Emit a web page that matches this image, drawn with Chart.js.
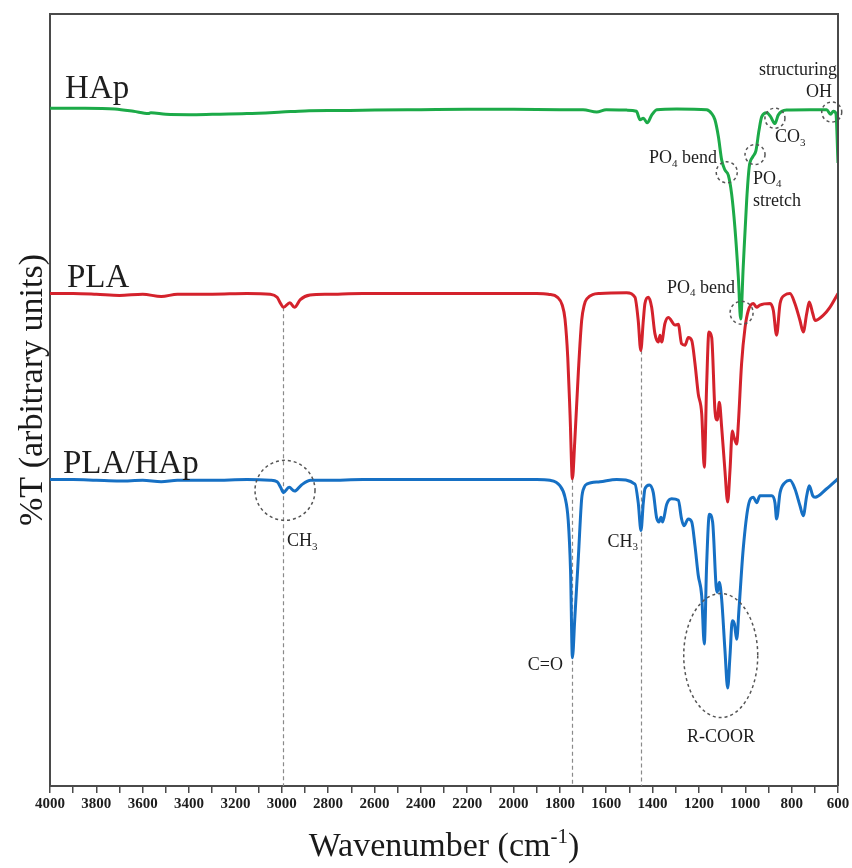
<!DOCTYPE html>
<html>
<head>
<meta charset="utf-8">
<title>FTIR spectra - HAp, PLA, PLA/HAp</title>
<script src="https://cdn.jsdelivr.net/npm/chart.js@4.4.0/dist/chart.umd.min.js"></script>
<style>
    body { margin: 0; background: #fff; }
    #wrap { width: 852px; height: 868px; position: relative; }
</style>
</head>
<body>
<div id="wrap"><canvas id="ftirChart"></canvas></div>
<script>
// Spectra: wavenumber (cm-1) and %T (arbitrary, traces are offset)
var hapWn = [4000, 3850, 3720, 3640, 3575, 3565, 3500, 3400, 3300, 3150,
    3000, 2900, 2750, 2600, 2400, 2200, 2000, 1800, 1700, 1641,
    1600, 1512, 1470, 1454, 1440, 1423, 1404, 1382, 1296, 1167,
    1145, 1131, 1116, 1102, 1088, 1073, 1059, 1045, 1030, 1020,
    1009, 994, 983, 968, 954, 941, 929, 908, 891, 872,
    858, 822, 721, 649, 632, 620, 609, 600];
var hapT = [87.8, 87.8, 87.7, 87.4, 87.1, 87.2, 87.0, 86.95, 87.0, 87.1,
    87.3, 87.45, 87.5, 87.55, 87.6, 87.65, 87.65, 87.6, 87.6, 87.3,
    87.6, 87.55, 87.4, 86.3, 86.5, 85.9, 86.9, 87.6, 87.7, 87.6,
    87.1, 86.3, 84.1, 81.1, 79.8, 79.1, 76.7, 72.4, 65.9, 60.5,
    67.2, 75.9, 80.2, 81.5, 82.3, 84.9, 86.7, 87.2, 86.7, 85.8,
    86.9, 87.55, 87.6, 87.6, 87.0, 87.4, 87.1, 80.7];

var plaWn = [4000, 3900, 3800, 3700, 3600, 3520, 3450, 3300, 3150, 3050,
    3020, 3005, 2993, 2965, 2945, 2920, 2878, 2800, 2650, 2450,
    2250, 2050, 1900, 1850, 1810, 1790, 1778, 1766, 1756, 1746,
    1736, 1720, 1706, 1695, 1684, 1627, 1512, 1476, 1462, 1451,
    1440, 1433, 1418, 1404, 1390, 1375, 1368, 1361, 1347, 1332,
    1303, 1289, 1275, 1260, 1246, 1231, 1217, 1203, 1188, 1177,
    1167, 1157, 1145, 1131, 1121, 1112, 1102, 1088, 1076, 1066,
    1056, 1049, 1037, 1030, 1016, 1001, 987, 965, 951, 937,
    893, 879, 865, 850, 829, 807, 786, 764, 750, 735,
    724, 709, 699, 663, 635, 600];
var plaT = [63.8, 63.8, 63.7, 63.55, 63.7, 63.4, 63.7, 63.7, 63.8, 63.7,
    63.3, 62.5, 62.0, 62.6, 62.0, 63.0, 63.6, 63.7, 63.8, 63.8,
    63.8, 63.8, 63.8, 63.7, 63.3, 62.3, 60.5, 55.5, 48.0, 39.8,
    44.5, 53.8, 60.3, 62.3, 63.1, 63.8, 63.9, 63.3, 60.3, 56.4,
    60.3, 62.5, 63.3, 62.0, 58.6, 57.5, 58.4, 57.5, 59.9, 60.7,
    59.7, 59.8, 57.3, 57.1, 58.1, 57.7, 54.7, 50.8, 48.2, 41.3,
    51.7, 58.8, 58.1, 48.7, 47.4, 49.7, 46.5, 40.9, 36.8, 40.9,
    46.0, 45.2, 44.3, 46.9, 54.7, 59.4, 61.6, 62.5, 62.0, 62.3,
    62.5, 61.6, 58.4, 62.5, 63.6, 63.8, 62.5, 60.3, 58.8, 61.2,
    62.7, 61.2, 60.3, 61.0, 62.0, 63.8];

var blendWn = [4000, 3900, 3800, 3700, 3600, 3520, 3450, 3300, 3150, 3050,
    3020, 3005, 2993, 2968, 2945, 2915, 2875, 2800, 2650, 2450,
    2250, 2050, 1900, 1843, 1800, 1778, 1764, 1754, 1746, 1736,
    1720, 1706, 1695, 1684, 1627, 1555, 1476, 1462, 1450, 1440,
    1433, 1414, 1397, 1383, 1372, 1364, 1357, 1339, 1318, 1289,
    1275, 1265, 1246, 1231, 1217, 1203, 1188, 1177, 1167, 1155,
    1141, 1126, 1121, 1112, 1102, 1088, 1076, 1066, 1056, 1047,
    1037, 1027, 1009, 987, 965, 951, 937, 886, 872, 865,
    850, 829, 807, 786, 764, 750, 735, 724, 709, 699,
    649, 600];
var blendT = [39.7, 39.7, 39.6, 39.5, 39.6, 39.4, 39.6, 39.6, 39.7, 39.6,
    39.4, 38.7, 38.0, 38.7, 38.2, 39.0, 39.6, 39.6, 39.7, 39.7,
    39.7, 39.7, 39.7, 39.6, 38.9, 37.4, 34.4, 27.9, 16.6, 21.5,
    29.8, 37.2, 38.7, 39.1, 39.4, 39.7, 39.1, 36.7, 33.1, 36.7,
    38.5, 39.0, 38.0, 34.8, 34.2, 34.8, 34.2, 36.5, 37.2, 37.0,
    34.6, 33.7, 34.6, 34.2, 31.1, 27.3, 24.6, 18.4, 28.5, 35.2,
    34.2, 25.9, 25.1, 26.4, 24.2, 17.7, 12.7, 16.9, 21.4, 21.0,
    19.0, 23.0, 30.7, 36.3, 37.4, 36.7, 37.6, 37.6, 36.7, 34.6,
    38.0, 39.3, 39.6, 38.5, 36.3, 35.0, 37.6, 38.9, 37.6, 37.4,
    38.5, 39.8];

// Band markers: dashed guide lines (wavenumber, %T where the line starts)
var guideWn = [2993, 1746, 1451];
var guideTop = [62.0, 39.8, 56.4];

// Dashed circles around bands: [wavenumber, %T, radius x, radius y]
var bandRings = [
    [2986, 38.3, 30, 30],
    [1106, 16.9, 37, 62],
    [1080, 79.5, 10.5, 10.5],
    [958, 81.8, 10, 10],
    [872, 86.5, 10, 10],
    [627, 87.3, 10, 10],
    [1016, 61.3, 11.5, 11.5]
];

// Text notes: parts ([text, 0 normal / 1 subscript]), wavenumber, %T, align, size
var notes = [
    { parts: [['HAp', 0]], wn: 3935, t: 89.1, align: 'left', size: 33 },
    { parts: [['PLA', 0]], wn: 3927, t: 64.6, align: 'left', size: 33 },
    { parts: [['PLA/HAp', 0]], wn: 3944, t: 40.5, align: 'left', size: 33 },
    { parts: [['CH', 0], ['3', 1]], wn: 2977, t: 31.1, align: 'left', size: 18 },
    { parts: [['CH', 0], ['3', 1]], wn: 1463, t: 31.0, align: 'right', size: 18 },
    { parts: [['C=O', 0]], wn: 1787, t: 15.0, align: 'right', size: 18 },
    { parts: [['R-COOR', 0]], wn: 1105, t: 5.7, align: 'center', size: 18 },
    { parts: [['PO', 0], ['4', 1], [' bend', 0]], wn: 1122, t: 80.7, align: 'right', size: 18 },
    { parts: [['PO', 0], ['4', 1]], wn: 967, t: 78.0, align: 'left', size: 18 },
    { parts: [['stretch', 0]], wn: 967, t: 75.1, align: 'left', size: 18 },
    { parts: [['CO', 0], ['3', 1]], wn: 872, t: 83.4, align: 'left', size: 18 },
    { parts: [['structuring', 0]], wn: 604, t: 92.1, align: 'right', size: 18 },
    { parts: [['OH', 0]], wn: 626, t: 89.2, align: 'right', size: 18 },
    { parts: [['PO', 0], ['4', 1], [' bend', 0]], wn: 1044, t: 63.9, align: 'right', size: 18 }
];

var SERIF = '"Liberation Serif", "DejaVu Serif", serif';

function toPoints(wn, t) {
    return wn.map(function(w, i) { return { x: w, y: t[i] }; });
}

function drawRich(ctx, parts, x, y, align, size) {
    var subSize = Math.round(size * 0.62);
    var total = 0;
    var widths = parts.map(function(p) {
        ctx.font = (p[1] ? subSize : size) + 'px ' + SERIF;
        var w = ctx.measureText(p[0]).width;
        total += w;
        return w;
    });
    var cx = x;
    if (align === 'right') cx = x - total;
    if (align === 'center') cx = x - total / 2;
    ctx.textAlign = 'left';
    ctx.textBaseline = 'alphabetic';
    parts.forEach(function(p, i) {
        ctx.font = (p[1] ? subSize : size) + 'px ' + SERIF;
        ctx.fillText(p[0], cx, p[1] ? y + size * 0.2 : y);
        cx += widths[i];
    });
}

var spectrumMarks = {
    id: 'spectrumMarks',
    beforeDatasetsDraw: function(chart) {
        var ctx = chart.ctx, xs = chart.scales.x, ys = chart.scales.y;
        ctx.save();
        ctx.strokeStyle = '#8a8a8a';
        ctx.lineWidth = 1.2;
        ctx.setLineDash([4, 3]);
        guideWn.forEach(function(w, i) {
            var px = Math.round(xs.getPixelForValue(w)) + 0.5;
            ctx.beginPath();
            ctx.moveTo(px, ys.getPixelForValue(guideTop[i]));
            ctx.lineTo(px, chart.chartArea.bottom);
            ctx.stroke();
        });
        ctx.restore();
    },
    afterDatasetsDraw: function(chart) {
        var ctx = chart.ctx, xs = chart.scales.x, ys = chart.scales.y;
        ctx.save();
        ctx.strokeStyle = '#555555';
        ctx.lineWidth = 1.5;
        ctx.setLineDash([3, 3]);
        bandRings.forEach(function(r) {
            ctx.beginPath();
            ctx.ellipse(xs.getPixelForValue(r[0]), ys.getPixelForValue(r[1]), r[2], r[3], 0, 0, Math.PI * 2);
            ctx.stroke();
        });
        ctx.setLineDash([]);
        ctx.fillStyle = '#1e1e1e';
        notes.forEach(function(n) {
            drawRich(ctx, n.parts, xs.getPixelForValue(n.wn), ys.getPixelForValue(n.t), n.align, n.size);
        });

        // frame on top and right
        var a = chart.chartArea;
        ctx.strokeStyle = '#4a4a4a';
        ctx.lineWidth = 2;
        ctx.beginPath();
        ctx.moveTo(a.left, a.top);
        ctx.lineTo(a.right, a.top);
        ctx.lineTo(a.right, a.bottom);
        ctx.stroke();

        // axis titles
        ctx.fillStyle = '#1a1a1a';
        ctx.save();
        ctx.translate(42, 390);
        ctx.rotate(-Math.PI / 2);
        ctx.font = '34px ' + SERIF;
        ctx.textAlign = 'center';
        ctx.textBaseline = 'alphabetic';
        ctx.fillText('%T (arbitrary units)', 0, 0);
        ctx.restore();

        var main = 'Wavenumber (cm', sup = '-1', close = ')';
        ctx.font = '34px ' + SERIF;
        var w1 = ctx.measureText(main).width, w3 = ctx.measureText(close).width;
        ctx.font = '21px ' + SERIF;
        var w2 = ctx.measureText(sup).width;
        var sx = (a.left + a.right) / 2 - (w1 + w2 + w3) / 2;
        var by = 856;
        ctx.textAlign = 'left';
        ctx.font = '34px ' + SERIF;
        ctx.fillText(main, sx, by);
        ctx.font = '21px ' + SERIF;
        ctx.fillText(sup, sx + w1, by - 13);
        ctx.font = '34px ' + SERIF;
        ctx.fillText(close, sx + w1 + w2, by);
        ctx.restore();
    }
};

var ctx = document.getElementById('ftirChart').getContext('2d');
var ftirChart = new Chart(ctx, {
    type: 'line',
    data: {
        datasets: [
            {
                label: 'HAp',
                data: toPoints(hapWn, hapT),
                borderColor: 'rgb(28, 170, 72)',
                borderWidth: 3,
                pointRadius: 0,
                cubicInterpolationMode: 'monotone'
            },
            {
                label: 'PLA',
                data: toPoints(plaWn, plaT),
                borderColor: 'rgb(212, 34, 44)',
                borderWidth: 3,
                pointRadius: 0,
                cubicInterpolationMode: 'monotone'
            },
            {
                label: 'PLA/HAp',
                data: toPoints(blendWn, blendT),
                borderColor: 'rgb(22, 112, 196)',
                borderWidth: 3,
                pointRadius: 0,
                cubicInterpolationMode: 'monotone'
            }
        ]
    },
    options: {
        responsive: true,
        maintainAspectRatio: false,
        animation: false,
        layout: { padding: { top: 14, right: 14, left: 0, bottom: 0 } },
        plugins: {
            legend: { display: false },
            tooltip: { enabled: false }
        },
        scales: {
            x: {
                type: 'linear',
                reverse: true,
                min: 600,
                max: 4000,
                afterFit: function(scale) { scale.height = 82; },
                border: { display: true, color: '#4a4a4a', width: 2 },
                grid: { drawOnChartArea: false, drawTicks: true, tickLength: 7, color: '#4a4a4a', lineWidth: 1.5 },
                ticks: {
                    stepSize: 100,
                    autoSkip: false,
                    maxRotation: 0,
                    padding: 2,
                    color: '#1e1e1e',
                    font: { family: SERIF, size: 15, weight: 'bold' },
                    callback: function(value) {
                        return value % 200 === 0 ? String(value) : '';
                    }
                }
            },
            y: {
                min: 0,
                max: 100,
                afterFit: function(scale) { scale.width = 50; },
                border: { display: true, color: '#4a4a4a', width: 2 },
                grid: { display: false },
                ticks: { display: false }
            }
        }
    },
    plugins: [spectrumMarks]
});
</script>
</body>
</html>
